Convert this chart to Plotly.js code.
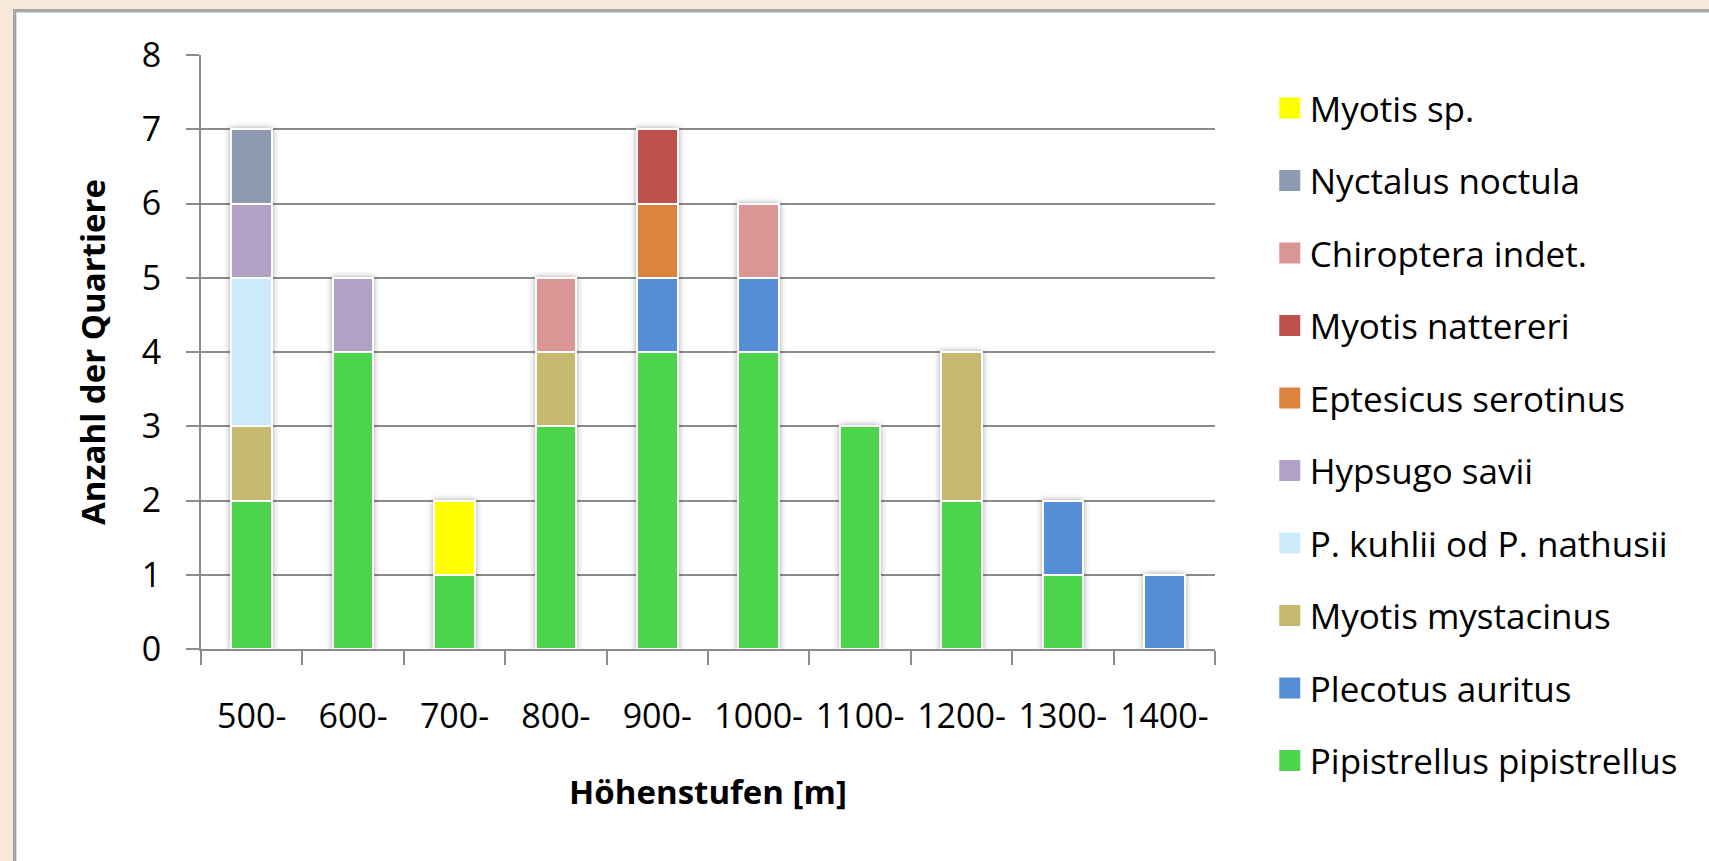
<!DOCTYPE html>
<html>
<head>
<meta charset="utf-8">
<script src="https://cdn.plot.ly/plotly-3.0.1.min.js"></script>
<style>
  html, body { margin: 0; padding: 0; background: #F8E8DA; width: 1709px; height: 861px; overflow: hidden; }
  #panel { position: absolute; left: 13px; top: 9px; width: 1710px; height: 870px; background: #ffffff;
           border-top: 3px solid #a6a6a6; border-left: 3px solid #a6a6a6; box-shadow: inset 1px 1px 0 #dcdcdc; }
  #chart { position: absolute; left: 0; top: 0; width: 1709px; height: 861px; }
  .barlayer { filter: drop-shadow(0px 0px 3px rgba(0,0,0,0.35)); }
</style>
</head>
<body>
<div id="panel"></div>
<div id="chart"></div>
<script>
const categories = ["500-", "600-", "700-", "800-", "900-", "1000-", "1100-", "1200-", "1300-", "1400-"];

// bottom-to-top stacking order
const seriesNames = [
  "Pipistrellus pipistrellus",
  "Plecotus auritus",
  "Myotis mystacinus",
  "P. kuhlii od P. nathusii",
  "Hypsugo savii",
  "Eptesicus serotinus",
  "Myotis nattereri",
  "Chiroptera indet.",
  "Nyctalus noctula",
  "Myotis sp."
];

const pipistrellus = [2, 4, 1, 3, 4, 4, 3, 2, 1, 0];
const plecotus     = [0, 0, 0, 0, 1, 1, 0, 0, 1, 1];
const mystacinus   = [1, 0, 0, 1, 0, 0, 0, 2, 0, 0];
const kuhlii       = [2, 0, 0, 0, 0, 0, 0, 0, 0, 0];
const hypsugo      = [1, 1, 0, 0, 0, 0, 0, 0, 0, 0];
const eptesicus    = [0, 0, 0, 0, 1, 0, 0, 0, 0, 0];
const nattereri    = [0, 0, 0, 0, 1, 0, 0, 0, 0, 0];
const chiroptera   = [0, 0, 0, 1, 0, 1, 0, 0, 0, 0];
const nyctalus     = [1, 0, 0, 0, 0, 0, 0, 0, 0, 0];
const myotisSp     = [0, 0, 1, 0, 0, 0, 0, 0, 0, 0];

const seriesValues = [pipistrellus, plecotus, mystacinus, kuhlii, hypsugo, eptesicus, nattereri, chiroptera, nyctalus, myotisSp];
const seriesColors = ["#4DD44D", "#558ED5", "#C4B96E", "#CCEBFD", "#B2A1C7", "#DC843F", "#C0504D", "#D99694", "#8E9AB1", "#FFFF00"];

const yTicks = [0, 1, 2, 3, 4, 5, 6, 7, 8];

const FONT = '"Open Sans", "DejaVu Sans", sans-serif';

const traces = seriesNames.map((name, i) => ({
  type: "bar",
  name: name,
  x: categories,
  y: seriesValues[i],
  legendgroup: "g" + i,
  legendrank: 100 - i,
  marker: { color: seriesColors[i], line: { color: "#ffffff", width: 2 } },
  hoverinfo: "x+y+name"
}));

const layout = {
  width: 1709,
  height: 861,
  paper_bgcolor: "rgba(0,0,0,0)",
  plot_bgcolor: "rgba(0,0,0,0)",
  barmode: "stack",
  bargap: 0.6,
  margin: { l: 201, r: 494, t: 55, b: 212 },
  font: { family: FONT, color: "#000000" },
  showlegend: true,
  legend: {
    x: 1.054, xanchor: "left",
    y: 0.960, yanchor: "top",
    traceorder: "grouped",
    tracegroupgap: 24,
    maxheight: 900,
    font: { family: FONT, size: 35, color: "#000000" },
    bgcolor: "rgba(0,0,0,0)"
  },
  xaxis: {
    type: "category",
    tickvals: categories,
    ticktext: categories,
    tickson: "boundaries",
    ticks: "outside",
    ticklen: 14,
    tickwidth: 2,
    tickcolor: "#8c8c8c",
    showline: true,
    linecolor: "#8c8c8c",
    linewidth: 2,
    showgrid: false,
    ticklabelstandoff: 36,
    tickfont: { family: FONT, size: 34, color: "#000000" },
    title: { text: "<b>Höhenstufen [m]</b>", font: { family: FONT, size: 33, color: "#000000" }, standoff: 44 }
  },
  yaxis: {
    range: [0, 8],
    tickvals: yTicks,
    ticktext: yTicks.map(String),
    ticks: "outside",
    ticklen: 13,
    tickwidth: 2,
    tickcolor: "#8c8c8c",
    showline: true,
    linecolor: "#8c8c8c",
    linewidth: 2,
    showgrid: true,
    gridcolor: "#8c8c8c",
    gridwidth: 2,
    zeroline: false,
    ticklabelstandoff: 18,
    tickfont: { family: FONT, size: 34, color: "#000000" },
    title: { text: "<b>Anzahl der Quartiere</b>", font: { family: FONT, size: 33, color: "#000000" }, standoff: 26 }
  }
};

Plotly.newPlot("chart", traces, layout, { displayModeBar: false, staticPlot: true }).then(gd => {
  gd.querySelectorAll(".legendpoints path").forEach(p => {
    const t = p.getAttribute("transform") || "";
    p.setAttribute("transform", t + " scale(1.75)");
    p.style.strokeWidth = "0px";
  });
});
</script>
</body>
</html>
